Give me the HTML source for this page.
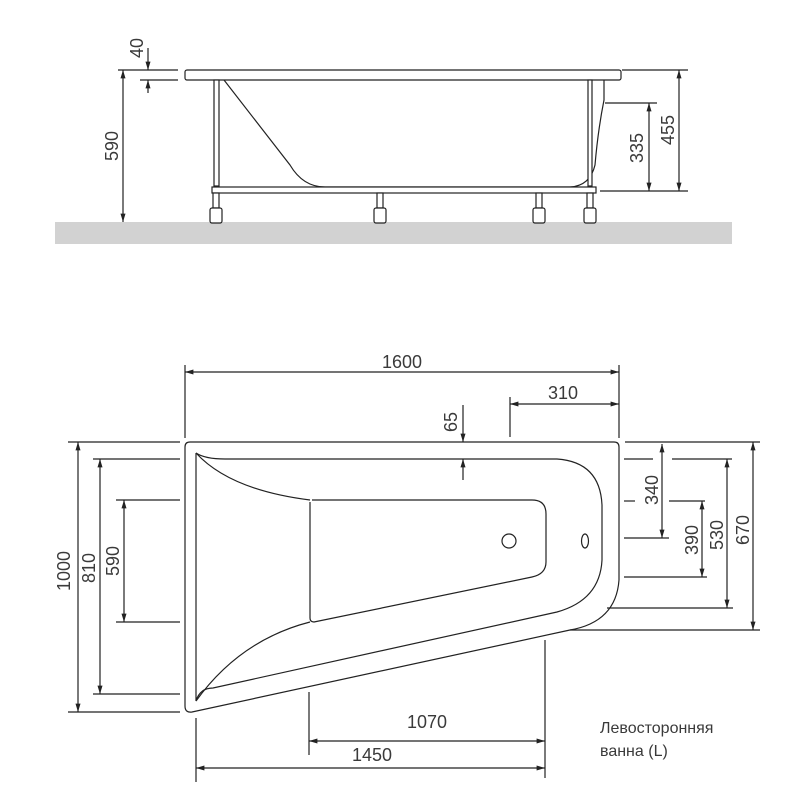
<!DOCTYPE html>
<html><head><meta charset="utf-8"><style>
html,body{margin:0;padding:0;background:#fff}
svg{display:block}
text{font-family:"Liberation Sans",sans-serif;fill:#3a3a3a;font-size:18px}
</style></head><body>
<svg width="808" height="808" viewBox="0 0 808 808" xmlns="http://www.w3.org/2000/svg">
<defs>
<marker id="a" viewBox="0 0 10 10" refX="10" refY="5" markerWidth="7" markerHeight="7" orient="auto-start-reverse"><path d="M0,2 L10,5 L0,8 z" fill="#222"/></marker>
</defs>
<g stroke="#222" stroke-width="1.2" fill="none">
<rect x="55" y="222" width="677" height="22" fill="#d2d2d2" stroke="none"/>
<rect x="185" y="70" width="436" height="10" rx="2" fill="#fff"/>
<path d="M224,80 L290,165 Q303,187 325,187 L570,187 Q590,186 595,165 Q598,130 604,100 L604,80"/>
<rect x="214" y="80" width="5" height="106" fill="#fff"/>
<rect x="588" y="80" width="4" height="106" fill="#fff"/>
<rect x="212" y="187" width="384" height="6" fill="#fff"/>
<g fill="#fff">
<rect x="213" y="193" width="6" height="15"/><rect x="210" y="208" width="12" height="15" rx="2"/>
<rect x="377" y="193" width="6" height="15"/><rect x="374" y="208" width="12" height="15" rx="2"/>
<rect x="536" y="193" width="6" height="15"/><rect x="533" y="208" width="12" height="15" rx="2"/>
<rect x="587" y="193" width="6" height="15"/><rect x="584" y="208" width="12" height="15" rx="2"/>
</g>
<line x1="118" y1="70" x2="178" y2="70"/>
<line x1="140" y1="80" x2="178" y2="80"/>
<line x1="123" y1="70" x2="123" y2="222" marker-start="url(#a)" marker-end="url(#a)"/>
<line x1="148" y1="48" x2="148" y2="70" marker-end="url(#a)"/>
<line x1="148" y1="93" x2="148" y2="80" marker-end="url(#a)"/>
<line x1="605" y1="103" x2="657" y2="103"/>
<line x1="600" y1="191" x2="688" y2="191"/>
<line x1="622" y1="70" x2="688" y2="70"/>
<line x1="649" y1="103" x2="649" y2="191" marker-start="url(#a)" marker-end="url(#a)"/>
<line x1="679" y1="70" x2="679" y2="191" marker-start="url(#a)" marker-end="url(#a)"/>
<path d="M190,442 L614,442 Q619,442 619,447 L619,580 Q616,622 570,630 L192,712 Q185,713 185,706 L185,447 Q185,442 190,442 Z" fill="#fff"/>
<path d="M196,453 L196,701 Q200,688 213,688 L557,612 Q600,600 602,560 L602,505 Q600,462 557,459 L225,459 Q205,459 196,453"/>
<path d="M196,453 Q230,490 310,500"/>
<path d="M196,701 Q240,640 310,622"/>
<path d="M312,500 L532,500 Q546,500 546,514 L546,562 Q546,574 532,577 L314,622 Q310,622 310,618 L310,502"/>
<circle cx="509" cy="541" r="7"/>
<ellipse cx="585" cy="541" rx="3.5" ry="7"/>
<line x1="185" y1="365" x2="185" y2="438"/>
<line x1="619" y1="365" x2="619" y2="438"/>
<line x1="185" y1="372" x2="619" y2="372" marker-start="url(#a)" marker-end="url(#a)"/>
<line x1="510" y1="397" x2="510" y2="437"/>
<line x1="510" y1="404" x2="619" y2="404" marker-start="url(#a)" marker-end="url(#a)"/>
<line x1="463" y1="405" x2="463" y2="442" marker-end="url(#a)"/>
<line x1="463" y1="480" x2="463" y2="459" marker-end="url(#a)"/>
<line x1="68" y1="442" x2="180" y2="442"/>
<line x1="68" y1="712" x2="180" y2="712"/>
<line x1="93" y1="459" x2="180" y2="459"/>
<line x1="93" y1="694" x2="180" y2="694"/>
<line x1="116" y1="500" x2="180" y2="500"/>
<line x1="116" y1="622" x2="180" y2="622"/>
<line x1="78" y1="442" x2="78" y2="712" marker-start="url(#a)" marker-end="url(#a)"/>
<line x1="100" y1="459" x2="100" y2="694" marker-start="url(#a)" marker-end="url(#a)"/>
<line x1="124" y1="500" x2="124" y2="622" marker-start="url(#a)" marker-end="url(#a)"/>
<line x1="625" y1="442" x2="760" y2="442"/>
<line x1="624" y1="459" x2="653" y2="459"/><line x1="672" y1="459" x2="732" y2="459"/>
<line x1="624" y1="501" x2="635" y2="501"/><line x1="669" y1="501" x2="705" y2="501"/>
<line x1="624" y1="538" x2="669" y2="538"/>
<line x1="624" y1="577" x2="707" y2="577"/>
<line x1="607" y1="608" x2="733" y2="608"/>
<line x1="570" y1="630" x2="760" y2="630"/>
<line x1="662" y1="444" x2="662" y2="538" marker-start="url(#a)" marker-end="url(#a)"/>
<line x1="702" y1="501" x2="702" y2="577" marker-start="url(#a)" marker-end="url(#a)"/>
<line x1="727" y1="459" x2="727" y2="608" marker-start="url(#a)" marker-end="url(#a)"/>
<line x1="753" y1="442" x2="753" y2="630" marker-start="url(#a)" marker-end="url(#a)"/>
<line x1="309" y1="692" x2="309" y2="755"/>
<line x1="545" y1="640" x2="545" y2="778"/>
<line x1="196" y1="718" x2="196" y2="782"/>
<line x1="309" y1="741" x2="545" y2="741" marker-start="url(#a)" marker-end="url(#a)"/>
<line x1="196" y1="768" x2="545" y2="768" marker-start="url(#a)" marker-end="url(#a)"/>
</g>
<g text-anchor="middle">
<text transform="translate(143,48) rotate(-90)">40</text>
<text transform="translate(118,146) rotate(-90)">590</text>
<text transform="translate(643,148) rotate(-90)">335</text>
<text transform="translate(674,130) rotate(-90)">455</text>
<text x="402" y="368">1600</text>
<text x="563" y="399">310</text>
<text transform="translate(457,422) rotate(-90)">65</text>
<text transform="translate(70,571) rotate(-90)">1000</text>
<text transform="translate(95,568) rotate(-90)">810</text>
<text transform="translate(119,561) rotate(-90)">590</text>
<text transform="translate(658,490) rotate(-90)">340</text>
<text transform="translate(698,540) rotate(-90)">390</text>
<text transform="translate(723,535) rotate(-90)">530</text>
<text transform="translate(749,530) rotate(-90)">670</text>
<text x="427" y="728">1070</text>
<text x="372" y="761">1450</text>
</g>
<text x="600" y="733" style="font-size:16px">Левосторонняя</text>
<text x="600" y="756" style="font-size:16px">ванна (L)</text>
</svg>
</body></html>
